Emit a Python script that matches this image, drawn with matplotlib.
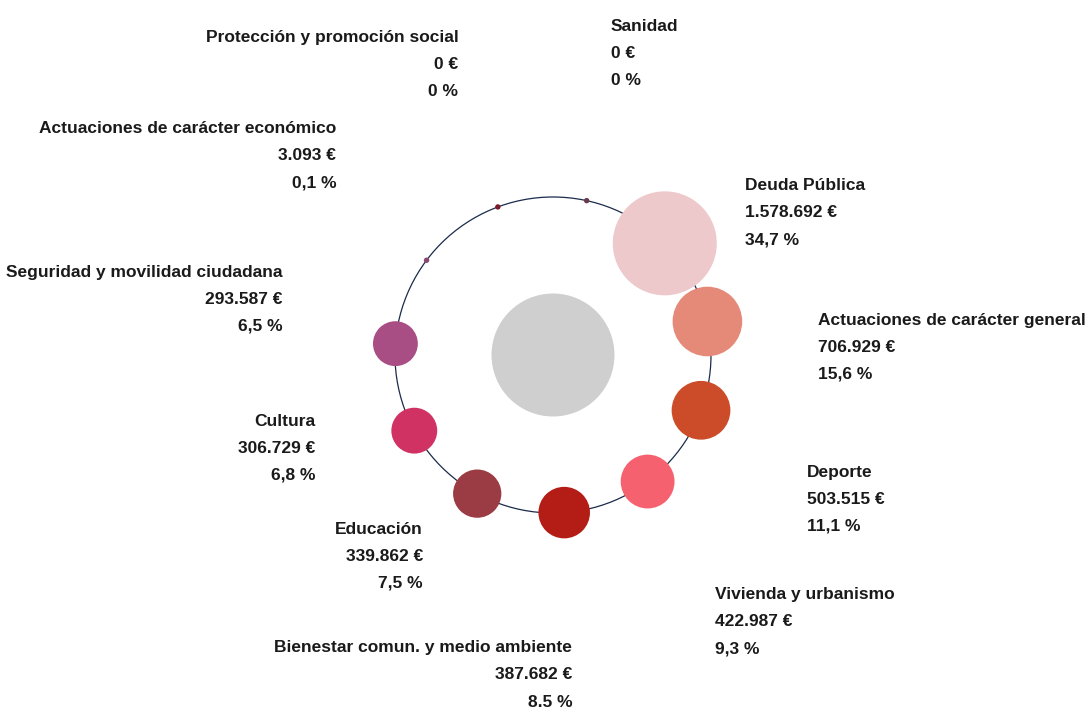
import numpy as np
import matplotlib
matplotlib.use('Agg')
import matplotlib.pyplot as plt
from matplotlib.patches import Circle

plt.rcParams['font.family'] = ['Liberation Sans', 'DejaVu Sans']

# budget areas, in the order they sit around the ring (clockwise from top)
areas = ['Sanidad', 'Deuda Pública', 'Actuaciones de carácter general', 'Deporte',
         'Vivienda y urbanismo', 'Bienestar comun. y medio ambiente', 'Educación',
         'Cultura', 'Seguridad y movilidad ciudadana',
         'Actuaciones de carácter económico', 'Protección y promoción social']
amounts = [0, 1578692, 706929, 503515, 422987, 387682, 339862, 306729, 293587, 3093, 0]
colors = ['#6b3a48', '#edc9cc', '#e58a78', '#cc4b29', '#f5616f', '#b31d15', '#9b3b44',
          '#cf3263', '#a94e84', '#8b4672', '#7a1a2a']

total = sum(amounts)


def fmt_euro(v):
    return '{:,}'.format(v).replace(',', '.') + ' €'


def fmt_pct(v):
    p = v / total * 100
    if p == 0:
        return '0 %'
    return '{:.1f}'.format(p).replace('.', ',') + ' %'


W, H = 1085, 707
fig = plt.figure(figsize=(W / 100, H / 100), dpi=100)
ax = fig.add_axes([0, 0, 1, 1])
ax.set_xlim(0, W)
ax.set_ylim(H, 0)
ax.set_aspect('equal')
ax.axis('off')

cx, cy = 553, 355
ring_r = 158
label_r = 271
start = 12.3
step = 360 / len(areas)
k = 52 / np.sqrt(max(amounts))

ax.add_patch(Circle((cx, cy), ring_r, fill=False, ec='#1b2b4b', lw=0.9, zorder=1))
ax.add_patch(Circle((cx, cy), 61.5, fc='#cfcfcf', ec='none', zorder=2))

for i, (name, v, c) in enumerate(zip(areas, amounts, colors)):
    a = np.radians(start + i * step)
    x = cx + ring_r * np.sin(a)
    y = cy - ring_r * np.cos(a)
    r = max(k * np.sqrt(v), 2.7)
    ax.add_patch(Circle((x, y), r, fc=c, ec='none', zorder=3))

    lx = cx + label_r * np.sin(a)
    ly = cy - label_r * np.cos(a)
    deg = start + i * step
    ha = 'left' if np.sin(a) > 0.1 else 'right'
    if 30 < deg < 180:
        base = [ly + 27, ly + 54, ly + 81]
    else:
        base = [ly - 59, ly - 32, ly - 5]
    lines = [name, fmt_euro(v), fmt_pct(v)]
    for t, b in zip(lines, base):
        ax.text(lx, b, t, ha=ha, va='baseline', fontsize=12.5,
                fontweight='bold', color='#1a1a1a')

fig.savefig('out.png', dpi=100)
